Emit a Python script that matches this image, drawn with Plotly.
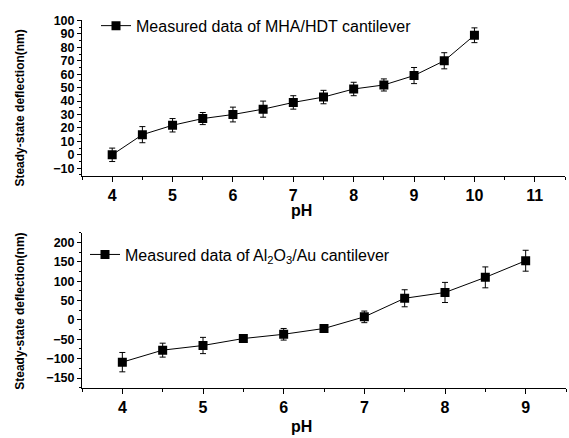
import plotly.graph_objects as go

# Top panel: MHA/HDT cantilever
ph_top = [4, 4.5, 5, 5.5, 6, 6.5, 7, 7.5, 8, 8.5, 9, 9.5, 10]
defl_top = [0, 15, 22, 27, 30, 34, 39, 43, 49, 52, 59, 70, 89]
err_top = [5, 6, 5, 4.5, 5.5, 6, 5, 5, 5, 4.5, 6, 6, 5.5]
top_name = "Measured data of MHA/HDT cantilever"

# Bottom panel: Al2O3/Au cantilever
ph_bot = [4, 4.5, 5, 5.5, 6, 6.5, 7, 7.5, 8, 8.5, 9]
defl_bot = [-109, -78, -66, -48, -37, -22, 8, 56, 71, 110, 153]
err_bot = [25, 18, 21, 9, 15, 3, 15, 22, 26, 27, 27]
bot_name = "Measured data of Al<sub>2</sub>O<sub>3</sub>/Au cantilever"

W, H = 569, 438
def px(x):
    return x / W
def py(y):
    return 1 - y / H

fig = go.Figure()

common = dict(mode="lines+markers",
              line=dict(color="black", width=1),
              marker=dict(symbol="square", size=9, color="black"))

fig.add_trace(go.Scatter(x=ph_top, y=defl_top, name=top_name,
                         error_y=dict(type="data", array=err_top, color="black", thickness=1, width=3),
                         xaxis="x", yaxis="y", legend="legend", **common))
fig.add_trace(go.Scatter(x=ph_bot, y=defl_bot, name=bot_name,
                         error_y=dict(type="data", array=err_bot, color="black", thickness=1, width=3),
                         xaxis="x2", yaxis="y2", legend="legend2", **common))

tickfont_x = dict(family="Arial, Liberation Sans", size=16, color="black", weight="bold")
tickfont_y = dict(family="Arial, Liberation Sans", size=12.5, color="black", weight="bold")

xcommon = dict(showline=True, linecolor="black", linewidth=1, ticks="outside", ticklen=5,
               tickcolor="black", showgrid=False, zeroline=False, dtick=1, tickfont=tickfont_x,
               minor=dict(ticks="outside", ticklen=3, dtick=0.5, tickcolor="black", showgrid=False))
ycommon = dict(showline=True, linecolor="black", linewidth=1, ticks="outside", ticklen=4,
               tickcolor="black", showgrid=False, zeroline=False, tickfont=tickfont_y)

fig.update_layout(
    width=W, height=H, margin=dict(l=0, r=0, t=0, b=0),
    paper_bgcolor="white", plot_bgcolor="white",
    showlegend=True,
    xaxis=dict(domain=[px(82), px(565)], range=[3.5, 11.5], anchor="y", **xcommon),
    yaxis=dict(domain=[py(172), py(14)], range=[-15.5, 100.5], dtick=10, anchor="x",
               minor=dict(ticks="outside", ticklen=2, dtick=5, tickcolor="black", showgrid=False),
               **ycommon),
    xaxis2=dict(domain=[px(82), px(566)], range=[3.5, 9.5], anchor="y2", **xcommon),
    yaxis2=dict(domain=[py(387), py(230)], range=[-175, 225], dtick=50, anchor="x2",
                minor=dict(ticks="outside", ticklen=2, dtick=25, tickcolor="black", showgrid=False),
                **ycommon),
    legend=dict(x=px(96), y=py(20), xanchor="left", yanchor="middle", bgcolor="rgba(0,0,0,0)",
                font=dict(family="Arial, Liberation Sans", size=16, color="black")),
    legend2=dict(x=px(85), y=py(252), xanchor="left", yanchor="middle", bgcolor="rgba(0,0,0,0)",
                 font=dict(family="Arial, Liberation Sans", size=16, color="black")),
)

title_font = dict(family="Arial, Liberation Sans", size=12, color="black", weight="bold")
ph_font = dict(family="Arial, Liberation Sans", size=16, color="black", weight="bold")
fig.add_annotation(text="Steady-state deflection(nm)", x=px(20), y=py(104), xref="paper", yref="paper",
                   textangle=-90, showarrow=False, font=title_font, xanchor="center", yanchor="middle")
fig.add_annotation(text="Steady-state deflection(nm)", x=px(20), y=py(310), xref="paper", yref="paper",
                   textangle=-90, showarrow=False, font=title_font, xanchor="center", yanchor="middle")
fig.add_annotation(text="pH", x=px(301), y=py(207), xref="paper", yref="paper",
                   showarrow=False, font=ph_font, xanchor="center", yanchor="middle")
fig.add_annotation(text="pH", x=px(301), y=py(426), xref="paper", yref="paper",
                   showarrow=False, font=ph_font, xanchor="center", yanchor="middle")

fig.write_html("out.html")
